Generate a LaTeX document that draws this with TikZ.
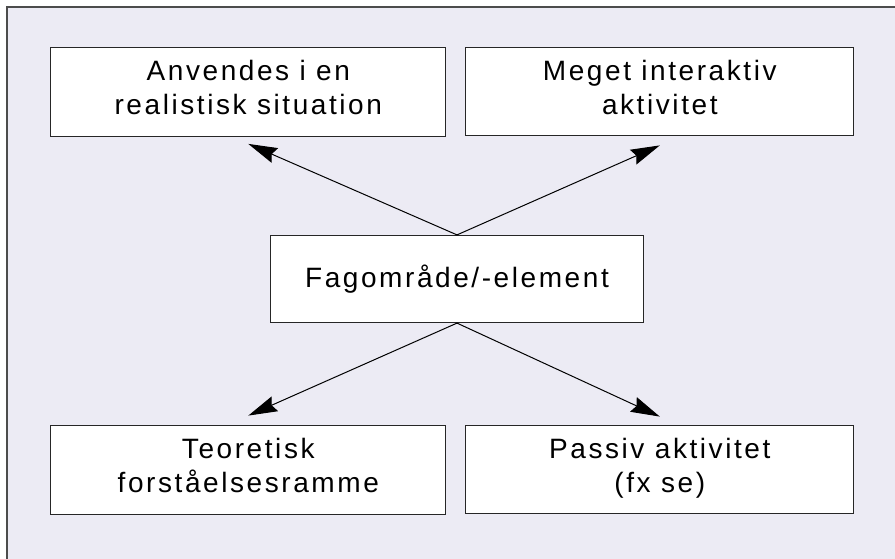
\documentclass[tikz,border=0pt]{standalone}
\usepackage{fontspec}
\setmainfont{Liberation Sans}
\newfontfamily\boksfont[LetterSpace=9.2]{Liberation Sans}
\usetikzlibrary{positioning}
\usetikzlibrary{arrows.meta}
\definecolor{bggray}{RGB}{236,235,244}

\begin{document}
\begin{tikzpicture}[
    x=1pt, y=1pt,
    FAG/.style={rectangle, draw=black!85, fill=white, line width=1.2pt, inner sep=0pt, align=center,
                font=\boksfont\fontsize{28}{34}\selectfont},
    venstre/.style={FAG, minimum width=395pt, minimum height=89pt, text depth=8pt},
    hoejre/.style={FAG, minimum width=388pt, minimum height=88pt, text depth=8pt},
    pil/.style={-{Stealth[length=29pt, width=16pt, inset=3.5pt]}, line width=1pt},
    ]
        \useasboundingbox (0,0) rectangle (895,-559);
        \draw[draw=black!70, fill=bggray, line width=1.2pt] (7,-7) rectangle (905,-570);

        \node[FAG, minimum width=373pt, minimum height=87pt] (centre) at (457,-279) {Fagområde/-element};
        \node[venstre, above=98pt of centre, xshift=-208.7pt] (anvend) {Anvendes i en\\ realistisk situation};
        \node[hoejre, above=98.5pt of centre, xshift=202.8pt] (interaktiv) {Meget interaktiv\\ aktivitet};
        \node[venstre, below=101.5pt of centre, xshift=-208.7pt] (teori) {Teoretisk\\ forståelsesramme};
        \node[hoejre, below=101.5pt of centre, xshift=202.8pt] (passiv) {Passiv aktivitet\\ (fx se)};

        \draw[pil] (centre.north) -- ([yshift=-7pt] anvend.south);
        \draw[pil] (centre.north) -- ([yshift=-9pt] interaktiv.south);
        \draw[pil] (centre.south) -- ([yshift=9pt] teori.north);
        \draw[pil] (centre.south) -- ([yshift=8pt] passiv.north);
    \end{tikzpicture}
\end{document}
